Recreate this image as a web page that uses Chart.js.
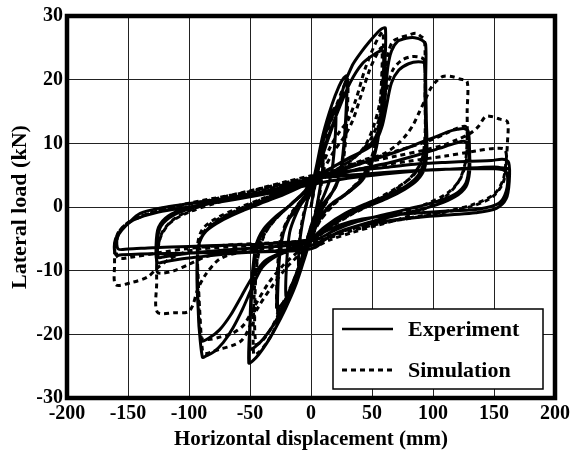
<!DOCTYPE html>
<html>
<head>
<meta charset="utf-8">
<script src="https://cdn.jsdelivr.net/npm/chart.js@4/dist/chart.umd.min.js"></script>
<style>
  html, body { margin: 0; padding: 0; background: #fff; }
  #wrap { width: 574px; height: 455px; }
</style>
</head>
<body>
<div id="wrap"><canvas id="c" width="574" height="455"></canvas></div>
<script>
// Axis ticks
const xTicks = [-200, -150, -100, -50, 0, 50, 100, 150, 200];
const yTicks = [-30, -20, -10, 0, 10, 20, 30];

// Experiment: [displacement (mm), lateral load (kN)] per loading cycle
const expCycle10 = [[0,0],[4,4.5],[8,8.5],[10,9.5],[9.5,6],[7,2.5],[3,-1.5],[-2,-4.5],[-6,-7.5],[-10,-9.5],[-9.5,-6],[-7,-2.5],[-3,1],[0,2.5]];
const expCycle20 = [[3,4.5],[8,9],[14,13],[19,15.5],[20.5,15.2],[19.5,10],[16.5,5],[11,2],[5,-0.5],[0,-3],[-6,-7],[-12,-10.5],[-17,-13],[-20.5,-14],[-20,-9],[-17.5,-4],[-12,-1],[-5,1.5],[0,3]];
const expCycle30 = [[4,6],[10,11.5],[17,16],[23,19],[27,20.3],[29.5,20.6],[29,16],[27,10],[24,5.5],[18,2.5],[10,0.5],[3,-2.5],[-3,-6],[-10,-10.5],[-17,-14],[-23,-16.3],[-27,-17.2],[-27,-12],[-25,-6.5],[-20,-2.5],[-12,-0.5],[-4,1.5],[0,3]];
const expCycle30b = [[5,6.5],[11,11],[18,14.5],[24,17],[29,18],[28.5,13],[26,7.5],[21,3.5],[13,1],[5,-2],[-3,-6],[-11,-10.5],[-19,-14],[-25,-15.5],[-28,-15.8],[-27,-10],[-24,-5],[-17,-1.5],[-8,1],[0,3]];
const expCycle60 = [[5,5.5],[12,9.5],[20,14],[27,19],[34,22.3],[41,24.3],[48,26],[54,27.3],[58,28],[61,28.1],[60.5,22],[58.5,16],[55,11],[50,7],[42,4.2],[30,2.2],[17,0.5],[7,-2],[0,-5],[-6,-8.5],[-13,-12.5],[-21,-16],[-29,-19],[-36,-21.3],[-43,-23.2],[-48,-24.2],[-51,-24.5],[-50,-18],[-48.5,-11.5],[-45,-6],[-39,-3.5],[-29,-1.5],[-17,0.3],[-7,2],[0,3.5]];
const expCycle60b = [[6,6.5],[13,10.5],[22,15],[32,19.5],[42,22.5],[52,24],[59,24.5],[58.5,18],[56,12],[51,7.5],[42,4.5],[28,2],[14,0],[4,-3],[-4,-7],[-12,-11],[-21,-15],[-30,-18.3],[-39,-20.7],[-46,-22],[-50,-22.3],[-49,-15],[-46.5,-9],[-41,-4.5],[-30,-2],[-16,0.5],[-5,2.5],[0,4]];
const expCycle90 = [[8,5],[20,6.5],[32,7.8],[44,9],[53,11],[58,14],[61,18],[63,22],[66,24.5],[71,26],[78,26.5],[85,26.6],[91,26.2],[94,25.5],[94,20],[94.5,14],[95,9],[93,6],[87,4.2],[77,2.8],[62,1.3],[45,0],[28,-1.5],[12,-3.5],[2,-5],[-8,-6],[-20,-7],[-31,-8],[-40,-9.5],[-48,-12.5],[-56,-16],[-64,-19],[-72,-21.3],[-80,-22.8],[-86,-23.4],[-89,-23.6],[-92,-18],[-93,-12],[-93,-7.5],[-90,-4.8],[-81,-2.8],[-67,-1.2],[-52,0],[-37,1.2],[-22,2.5],[-8,3.8],[0,4.5]];
const expCycle90b = [[10,5.5],[25,7],[40,8.5],[52,10],[58,12.5],[62,16],[66,19.5],[72,21.5],[80,22.5],[88,22.8],[93,22.5],[93.5,17],[94,12],[93,7.5],[88,5],[78,3.3],[62,1.8],[45,0.5],[28,-1],[12,-3],[0,-5],[-12,-6.2],[-25,-7.2],[-38,-8.5],[-48,-11],[-57,-14],[-66,-17],[-75,-19.3],[-83,-20.5],[-90,-21],[-92.5,-16],[-93.5,-10],[-92,-6],[-86,-3.8],[-72,-2],[-55,-0.5],[-38,0.8],[-22,2],[-8,3.2],[0,4]];
const expCycle125 = [[12,5],[28,6],[44,7],[60,8],[72,8.8],[82,9.5],[92,10.3],[102,11],[112,11.8],[120,12.2],[126,12.3],[129,11.8],[130,8.5],[130,5.5],[127,3.2],[118,1.6],[104,0.4],[86,-0.6],[66,-1.5],[46,-2.5],[28,-3.6],[14,-4.8],[4,-5.8],[-10,-6.5],[-30,-6.9],[-50,-7.1],[-70,-7.4],[-90,-7.8],[-108,-8.2],[-120,-8.6],[-126,-8.7],[-127,-6],[-125,-3.2],[-117,-1.4],[-102,-0.2],[-82,0.7],[-62,1.5],[-42,2.3],[-22,3.2],[-6,4.2],[0,4.6]];
const expCycle125b = [[15,4.8],[40,6],[65,7],[88,8.2],[105,9.2],[118,10],[126,10.3],[129,9.5],[129.5,6.5],[127,3.8],[118,2],[102,0.8],[80,-0.3],[58,-1.3],[38,-2.3],[20,-3.6],[6,-5],[-10,-5.8],[-35,-6.3],[-60,-6.6],[-85,-7],[-105,-7.4],[-120,-7.8],[-125,-7.9],[-126,-5.5],[-123,-3],[-112,-1.2],[-95,0],[-72,1],[-48,1.9],[-25,2.8],[-8,3.8],[0,4.2]];
const expCycle160 = [[15,5.2],[35,5.7],[60,6.2],[85,6.7],[110,7],[132,7.2],[148,7.3],[157,7.5],[162,7],[162.5,4],[160,1.3],[152,-0.2],[135,-0.9],[115,-1.2],[95,-1.5],[75,-1.9],[55,-2.4],[37,-3],[22,-4],[11,-5.2],[4,-6.3],[-8,-6.8],[-30,-7],[-60,-7.1],[-90,-7.2],[-118,-7.3],[-140,-7.4],[-155,-7.5],[-160,-7.5],[-161,-5.6],[-158,-4.2],[-150,-2.6],[-140,-1],[-122,-0.1],[-101,0.5],[-76,1.2],[-50,2],[-25,3],[-3,4],[0,4.4]];
const expCycle160b = [[20,4.8],[45,5.2],[75,5.6],[105,5.9],[132,6],[150,6],[158,5.8],[161,5],[160,2.5],[154,0.6],[138,-0.3],[115,-0.6],[90,-0.9],[65,-1.3],[42,-1.9],[24,-2.8],[10,-4],[0,-5],[-15,-5.5],[-40,-5.8],[-70,-6],[-100,-6.2],[-130,-6.4],[-150,-6.6],[-158,-6.6],[-159,-5],[-155,-3.6],[-145,-2],[-125,-0.8],[-100,0],[-75,0.8],[-50,1.6],[-25,2.5],[0,3.5],[30,4.5],[60,5.2],[90,5.7],[120,6],[150,6.3],[162,6]];

// Simulation: [displacement (mm), lateral load (kN)] per loading cycle
const simCycle10 = [[0,0],[5,5],[10,9],[9,4.5],[6,1],[1,-2.5],[-4,-5.5],[-10,-9],[-9,-4.5],[-6,-1],[-1,2],[2,3.5]];
const simCycle30 = [[7,7],[13,11.5],[20,15.5],[26,18.5],[30,20],[29.5,14],[27,8],[22,4],[15,1.5],[6,-1.5],[-3,-5.5],[-11,-10],[-19,-13.5],[-25,-15.8],[-28,-16.5],[-27.5,-10],[-25,-5],[-18,-1.5],[-9,0.8],[0,2.5]];
const simCycle60 = [[8,6],[16,9.5],[24,12],[30,13.5],[37,17],[44,21.5],[50,24.5],[55,26.5],[59,27.5],[58.5,20],[56.5,14],[52,9],[45,5.5],[35,3],[22,1],[10,-1.5],[0,-4.5],[-8,-8.5],[-16,-12.5],[-24,-16.5],[-32,-20],[-39,-22],[-44,-23],[-47,-23.2],[-47,-16],[-45,-9.5],[-40,-5],[-31,-2.3],[-19,0],[-8,1.8],[0,3]];
const simCycle60b = [[9,5.5],[18,8.5],[27,11],[34,13.5],[41,17.5],[48,21.5],[54,24],[58,25],[57.5,18.5],[55,12.5],[50,8],[42,4.8],[30,2.3],[16,0],[5,-3],[-4,-7],[-13,-11],[-22,-15],[-31,-18.5],[-39,-20.8],[-45,-21.5],[-46,-15],[-44,-8.5],[-38,-4.3],[-27,-1.5],[-14,0.8],[0,3.2]];
const simCycle90 = [[10,4.5],[22,6],[34,7.5],[44,9.5],[51,12.5],[56,16],[60,20.5],[63,24],[67,26],[73,26.6],[80,27],[86,27.3],[90,26.8],[93,26.3],[93.5,20],[94,14],[93.5,10],[90,7],[82,4.7],[68,2.6],[50,0.5],[32,-1.3],[16,-3.2],[4,-5],[-8,-7.2],[-20,-9.5],[-32,-12.5],[-44,-16],[-52,-19.5],[-57,-21],[-65,-21.8],[-74,-22.3],[-82,-22.8],[-87,-23],[-89,-22.5],[-91,-17],[-92.5,-11],[-93,-6],[-89,-3.5],[-78,-1.8],[-60,-0.2],[-40,1.3],[-20,2.8],[-5,3.8],[0,4.2]];
const simCycle90b = [[12,5],[26,6.5],[40,8.5],[50,11],[57,14.5],[62,18.5],[67,21.5],[74,23],[82,23.6],[90,23.5],[93,23],[93.5,17],[93.5,11.5],[91,7.5],[84,5],[70,3],[52,1],[34,-1],[18,-2.8],[5,-4.6],[-8,-6.6],[-22,-9],[-35,-12],[-46,-15.5],[-55,-18.5],[-64,-19.8],[-74,-20.4],[-84,-20.8],[-90,-20.5],[-92,-15],[-93,-9.5],[-91,-5.2],[-82,-2.6],[-64,-0.8],[-44,0.9],[-24,2.4],[-6,3.6],[0,4]];
const simCycle125 = [[15,5.3],[30,6.5],[45,7.5],[59,8.3],[70,9.7],[78,11.3],[84,13],[89,15],[94,17],[98,18.6],[103,19.8],[108,20.5],[115,20.5],[122,20.1],[128,19.7],[128,15],[128,10.8],[126.5,7],[121,4],[110,1.6],[93,-0.3],[74,-1.8],[54,-2.9],[34,-4],[15,-5.2],[0,-6.5],[-20,-6.8],[-40,-7],[-60,-7.2],[-75,-8.2],[-86,-10.5],[-93,-13],[-97,-15.5],[-101,-16.5],[-112,-16.6],[-126,-16.5],[-126.5,-12],[-126,-7],[-122,-4],[-113,-2],[-98,-0.4],[-80,0.8],[-60,1.9],[-40,3],[-20,4],[0,4.9]];
const simCycle125b = [[18,5.5],[36,6.8],[54,7.8],[70,8.8],[84,9.6],[98,10.5],[110,11.5],[120,12.4],[127,12.6],[128,10],[127,7],[122,4.3],[112,2.2],[96,0.6],[76,-0.8],[56,-2],[36,-3.2],[16,-4.6],[0,-6],[-22,-6.4],[-45,-6.6],[-68,-7],[-86,-7.8],[-100,-9],[-112,-10],[-122,-10.4],[-126,-10.2],[-126,-7.5],[-123,-4.6],[-115,-2.4],[-100,-0.8],[-80,0.5],[-58,1.7],[-36,2.8],[-16,3.8],[0,4.6]];
const simCycle160 = [[20,5.8],[45,7],[70,8],[92,8.9],[108,9.7],[120,10.6],[130,11.5],[137,12.6],[143,14.2],[148,14.2],[155,13.8],[161,13.4],[161,10],[160,7.5],[157.5,4.3],[150,2],[133,0.4],[113,-0.6],[93,-1.3],[72,-2],[52,-2.8],[32,-3.8],[12,-5],[-6,-5.8],[-30,-6],[-60,-6.2],[-91,-6.6],[-105,-7.2],[-116,-8.2],[-126,-9.6],[-134,-11],[-146,-11.8],[-160,-12.2],[-161,-9],[-160.5,-6],[-158,-4],[-150,-2.5],[-132,-1],[-112,0],[-85,1],[-58,2.2],[-30,3.4],[-5,4.5]];
const simCycle160b = [[20,5.2],[50,6.3],[80,7.2],[110,8],[135,8.8],[150,9.2],[159,9],[160,6.5],[157,3.6],[148,1.5],[130,0],[105,-1],[80,-1.8],[55,-2.6],[30,-3.6],[10,-4.8],[-10,-5.4],[-40,-5.7],[-70,-6],[-100,-6.5],[-125,-7.2],[-145,-7.8],[-158,-8],[-159.5,-6],[-157,-3.8],[-148,-2.2],[-128,-0.7],[-100,0.6],[-70,1.7],[-40,2.8],[-12,4]];

const experiment = [].concat(expCycle10, expCycle20, expCycle30, expCycle30b, expCycle60, expCycle60b, expCycle90, expCycle90b, expCycle125, expCycle125b, expCycle160, expCycle160b);
const simulation = [].concat(simCycle10, simCycle30, simCycle60, simCycle60b, simCycle90, simCycle90b, simCycle125, simCycle125b, simCycle160, simCycle160b);

const toPoints = arr => arr.map(p => ({ x: p[0], y: p[1] }));

const SERIF = '"Liberation Serif", "Times New Roman", serif';

// Thick frame around the plotting area
const framePlugin = {
  id: 'frame',
  afterDraw(chart) {
    const { ctx, chartArea: a } = chart;
    ctx.save();
    ctx.lineWidth = 4.5;
    ctx.strokeStyle = '#000';
    ctx.strokeRect(a.left, a.top, a.right - a.left, a.bottom - a.top);
    ctx.restore();
  }
};

// Boxed legend in the lower-right corner of the plot
const boxLegendPlugin = {
  id: 'boxLegend',
  afterDatasetsDraw(chart) {
    const { ctx, chartArea: a } = chart;
    const right = a.right - 12, bottom = a.bottom - 9;
    const w = 210, h = 80;
    const left = right - w, top = bottom - h;
    ctx.save();
    ctx.fillStyle = '#fff';
    ctx.fillRect(left, top, w, h);
    ctx.lineWidth = 1.5;
    ctx.strokeStyle = '#000';
    ctx.strokeRect(left, top, w, h);
    const rows = [
      { label: chart.data.datasets[0].label, dash: [], width: 2.5, y: top + 20 },
      { label: chart.data.datasets[1].label, dash: [5, 4], width: 3, y: top + 61 }
    ];
    ctx.font = 'bold 22px ' + SERIF;
    ctx.textBaseline = 'middle';
    ctx.fillStyle = '#000';
    rows.forEach(r => {
      ctx.beginPath();
      ctx.setLineDash(r.dash);
      ctx.lineWidth = r.width;
      ctx.moveTo(left + 9, r.y);
      ctx.lineTo(left + 60, r.y);
      ctx.stroke();
      ctx.setLineDash([]);
      ctx.fillText(r.label, left + 75, r.y + 1);
    });
    ctx.restore();
  }
};

new Chart(document.getElementById('c'), {
  type: 'scatter',
  data: {
    datasets: [
      {
        label: 'Experiment',
        data: toPoints(experiment),
        showLine: true,
        borderColor: '#000',
        borderWidth: 3,
        pointRadius: 0,
        tension: 0.3,
        borderJoinStyle: 'round',
        order: 1
      },
      {
        label: 'Simulation',
        data: toPoints(simulation),
        showLine: true,
        borderColor: '#000',
        borderWidth: 3,
        borderDash: [5, 4],
        pointRadius: 0,
        tension: 0.3,
        order: 2
      }
    ]
  },
  options: {
    responsive: false,
    animation: false,
    devicePixelRatio: 1,
    layout: { padding: { top: 14, right: 18, left: 0, bottom: 0 } },
    plugins: {
      legend: { display: false },
      tooltip: { enabled: false }
    },
    scales: {
      x: {
        type: 'linear',
        min: -200,
        max: 200,
        afterBuildTicks: s => { s.ticks = xTicks.map(v => ({ value: v })); },
        afterFit: s => { s.height = 57; },
        grid: { color: '#222', lineWidth: 1, drawTicks: false },
        border: { display: false },
        ticks: {
          color: '#000',
          padding: 4,
          font: { family: SERIF, size: 20, weight: 'bold' }
        },
        title: {
          display: true,
          text: 'Horizontal displacement (mm)',
          color: '#000',
          font: { family: SERIF, size: 21, weight: 'bold' },
          padding: { top: 0, bottom: 3 }
        }
      },
      y: {
        type: 'linear',
        min: -30,
        max: 30,
        afterBuildTicks: s => { s.ticks = yTicks.map(v => ({ value: v })); },
        afterFit: s => { s.width = 67; },
        grid: { color: '#222', lineWidth: 1, drawTicks: false },
        border: { display: false },
        ticks: {
          color: '#000',
          padding: 4,
          font: { family: SERIF, size: 20, weight: 'bold' }
        },
        title: {
          display: true,
          text: 'Lateral load (kN)',
          color: '#000',
          font: { family: SERIF, size: 22, weight: 'bold' },
          padding: { top: 7, bottom: 0 }
        }
      }
    }
  },
  plugins: [framePlugin, boxLegendPlugin]
});
</script>
</body>
</html>
